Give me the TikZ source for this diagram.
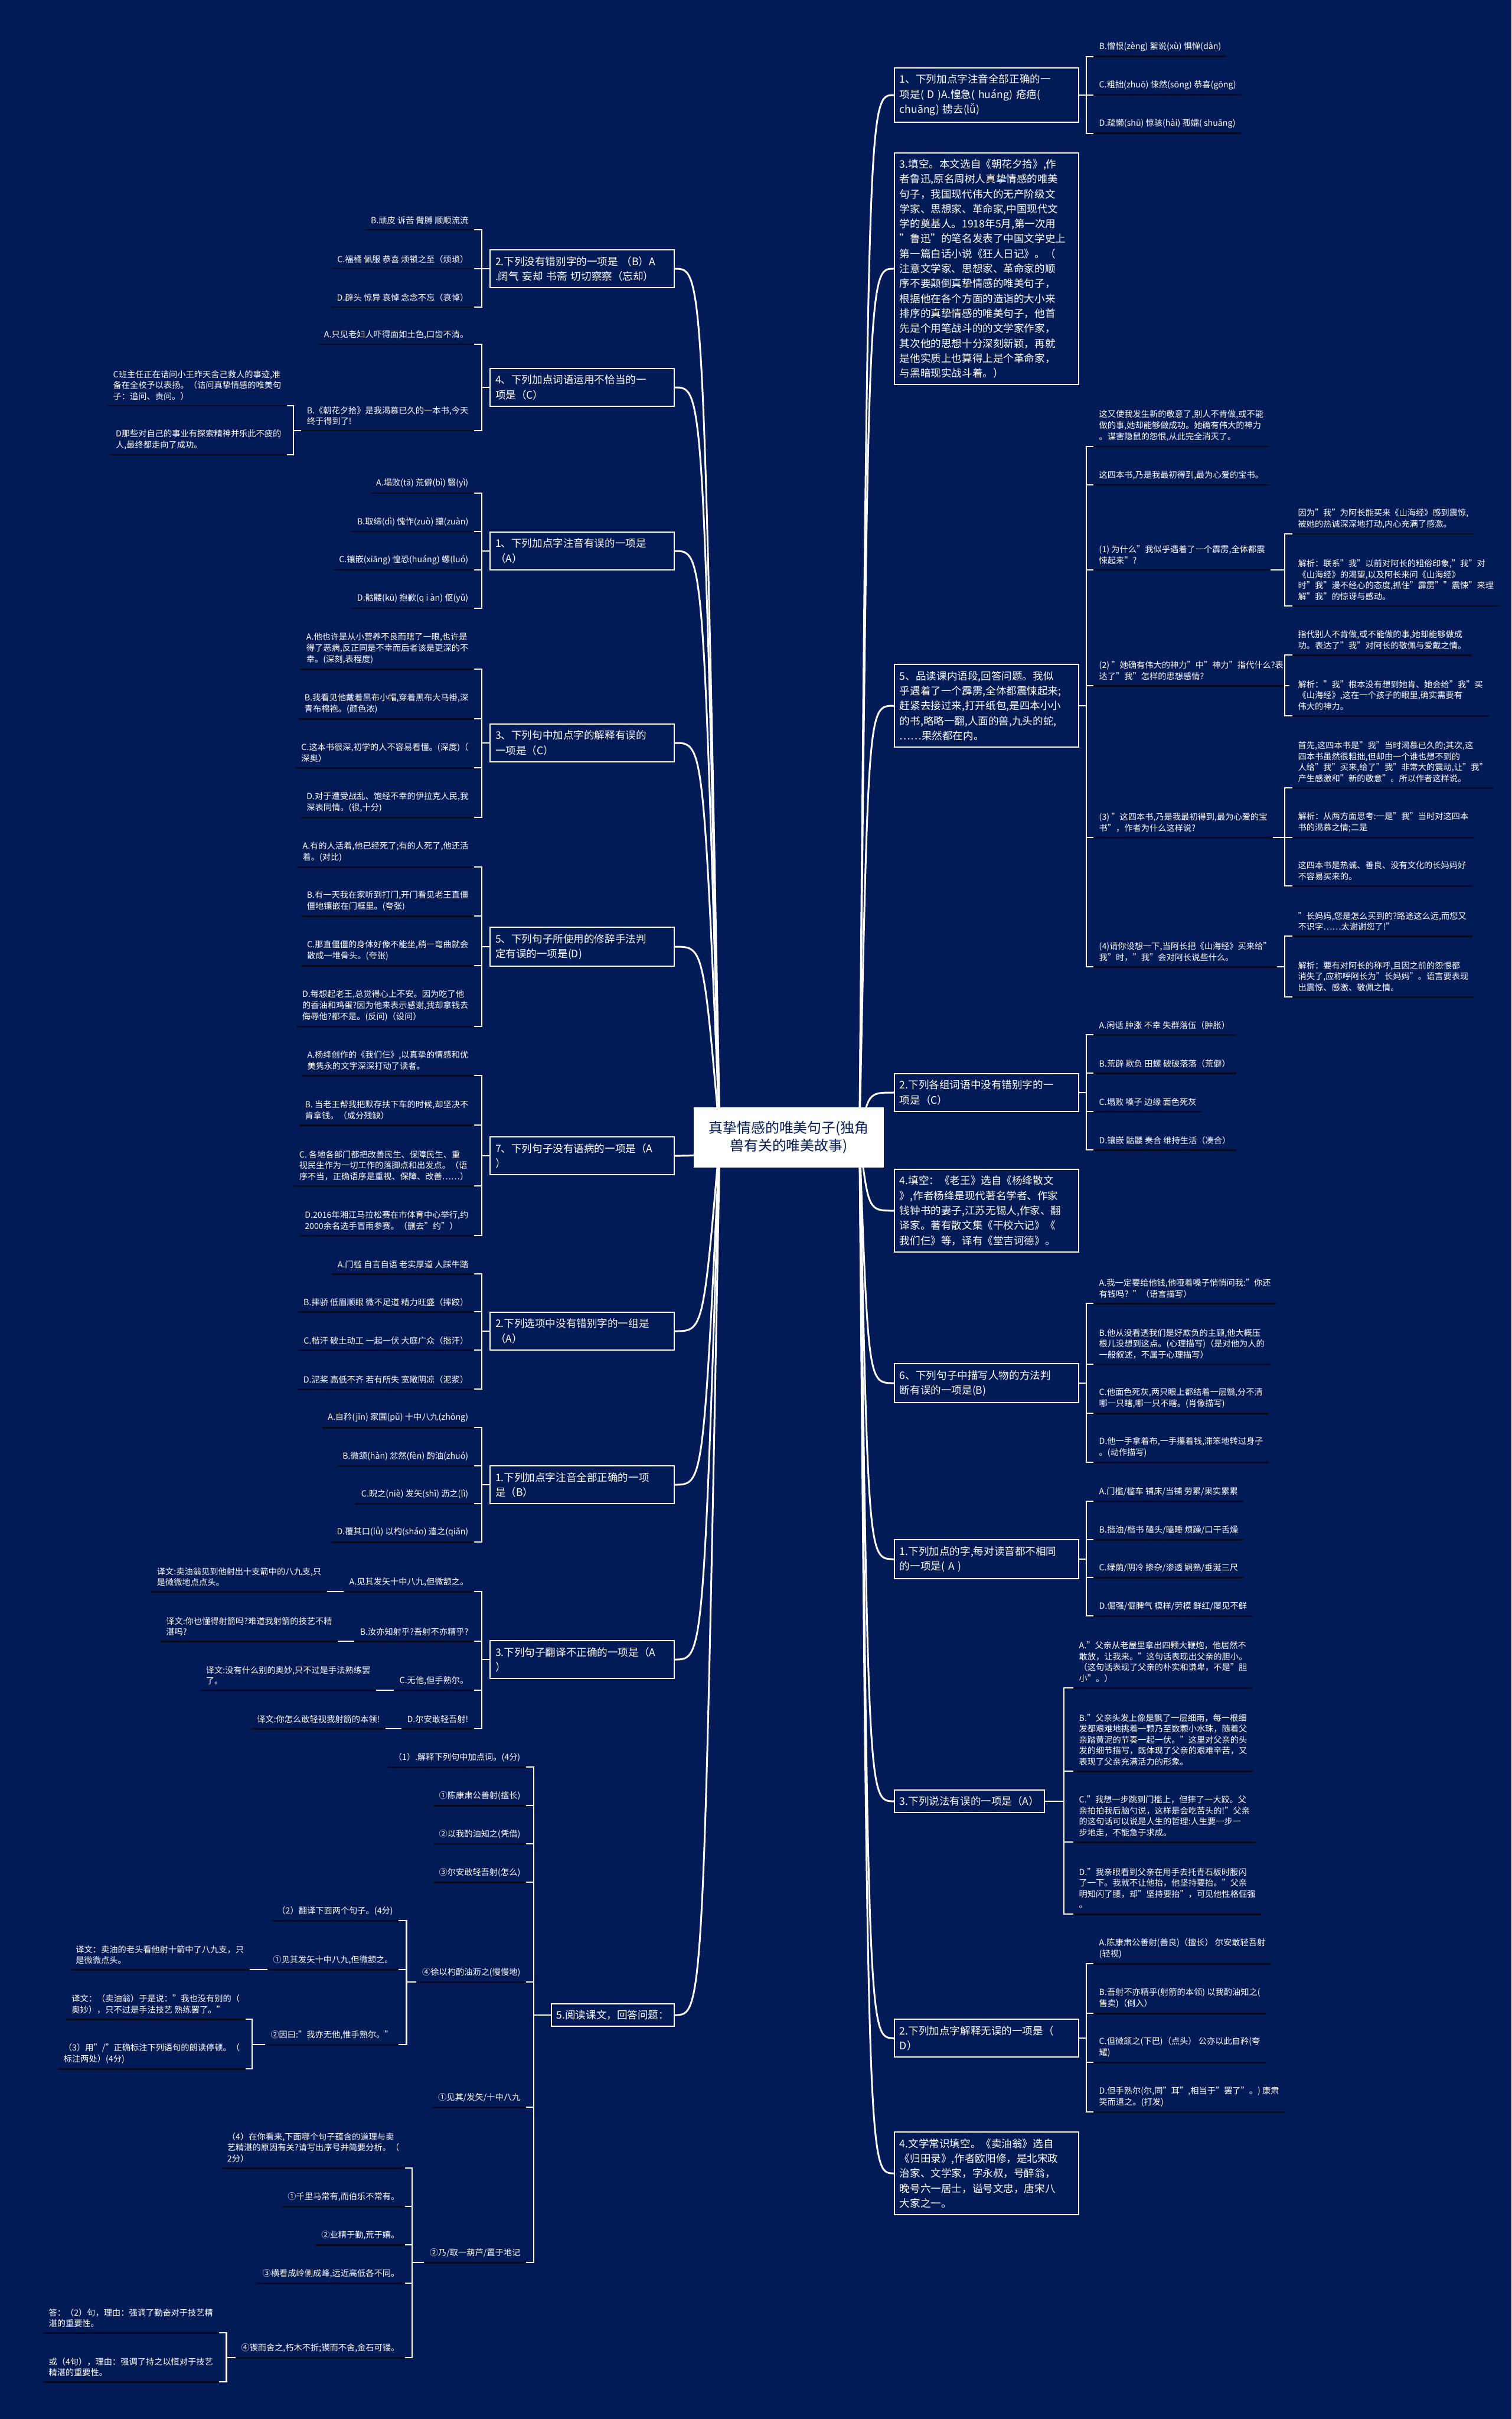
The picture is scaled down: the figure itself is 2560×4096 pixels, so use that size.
\documentclass[tikz,border=0pt]{standalone}
\usepackage{fontspec}
\setmainfont{Noto Sans CJK SC}
\usetikzlibrary{calc,positioning,backgrounds}
\definecolor{mapNavy}{HTML}{021B56}
\definecolor{mapInk}{HTML}{040A22}
\newcommand{\hubsize}{\fontsize{6.8pt}{8.6pt}\selectfont}
\newcommand{\topicsize}{\fontsize{5pt}{7.2pt}\selectfont}
\newcommand{\leafsize}{\fontsize{4.05pt}{5.3pt}\selectfont}

\begin{document}
\begin{tikzpicture}[x=0.1mm,y=-0.1mm,
    hub/.style={fill=white,text=mapNavy,font=\hubsize,align=center,
                minimum width=32.2mm,minimum height=10.2mm,inner sep=1mm},
    topic/.style={draw=white,fill=mapNavy,line width=0.55pt,text=white,font=\topicsize,
                  align=left,inner xsep=0.9mm,inner ysep=1.1mm},
    topicwide/.style={topic,text width=29.4mm},
    leafnode/.style={text=white,font=\leafsize,align=left,inner xsep=0.9mm,inner ysep=0.85mm,
                     append after command={(\tikzlastnode.south west) edge[ink] (\tikzlastnode.south east)}},
    ink/.style={draw=mapInk,line width=0.85pt},
    brk/.style={draw=white,line width=0.7pt},
    branch/.style={draw=white,line width=0.85pt}]

  \useasboundingbox (0,0) rectangle (2560,4096);

  % centre
  \node[hub] (hub) at (1336,1926) {真挚情感的唯美句子(独角\\兽有关的唯美故事)};
  \coordinate (hubR) at ([xshift=-2.7mm]hub.east);
  \coordinate (hubL) at ([xshift=1.7mm]hub.west);

  % ---------- left side ----------
  \node[topicwide,anchor=east] (tCuo) at (1143,455) {2.下列没有错别字的一项是 （B）A\\.阔气 妄却 书斋 切切察察（忘却）};
  \node[leafnode,anchor=south east] (cuoB) at (803,389) {B.顽皮 诉苦 臂膊 顺顺流流};
  \node[leafnode,anchor=south east] (cuoC) at (803,455) {C.福橘 佩服 恭喜 烦锁之至（烦琐）};
  \node[leafnode,anchor=south east] (cuoD) at (803,520) {D.辟头 惊异 哀悼 念念不忘（哀悼）};

  \node[topicwide,anchor=east] (tBuQia) at (1143,656) {4、下列加点词语运用不恰当的一\\项是（C）};
  \node[leafnode,anchor=south east] (buqA) at (803,583) {A.只见老妇人吓得面如土色,口齿不清。};
  \node[leafnode,anchor=south east] (buqB) at (803,729) {B.《朝花夕拾》是我渴慕已久的一本书,今天\\终于得到了!};
  \node[leafnode,anchor=south east] (buqC) at ($(buqB.south west)+(-24,-42)$) {C班主任正在诘问小王昨天舍己救人的事迹,准\\备在全校予以表扬。（诘问真挚情感的唯美句\\子：追问、责问。）};
  \node[leafnode,anchor=south east] (buqD) at ($(buqB.south west)+(-24,41)$) {D那些对自己的事业有探索精神并乐此不疲的\\人,最终都走向了成功。};

  \node[topicwide,anchor=east] (tZhuYin) at (1143,933) {1、下列加点字注音有误的一项是\\（A）};
  \node[leafnode,anchor=south east] (zyA) at (803,835) {A.塌败(tā) 荒僻(bì) 翳(yì)};
  \node[leafnode,anchor=south east] (zyB) at (803,900) {B.取缔(dì) 愧怍(zuò) 攥(zuàn)};
  \node[leafnode,anchor=south east] (zyC) at (803,965) {C.镶嵌(xiāng) 惶恐(huáng) 螺(luó)};
  \node[leafnode,anchor=south east] (zyD) at (803,1030) {D.骷髅(kū) 抱歉(q i àn) 伛(yǔ)};

  \node[topicwide,anchor=east] (tJieShi) at (1143,1258) {3、下列句中加点字的解释有误的\\一项是（C）};
  \node[leafnode,anchor=south east] (jsA) at (803,1133) {A.他也许是从小营养不良而瞎了一眼,也许是\\得了恶病,反正同是不幸而后者该是更深的不\\幸。(深刻,表程度)};
  \node[leafnode,anchor=south east] (jsB) at (803,1217) {B.我看见他戴着黑布小帽,穿着黑布大马褂,深\\青布棉袍。(颜色浓)};
  \node[leafnode,anchor=south east] (jsC) at (803,1300) {C.这本书很深,初学的人不容易看懂。(深度)（\\深奥）};
  \node[leafnode,anchor=south east] (jsD) at (803,1384) {D.对于遭受战乱、饱经不幸的伊拉克人民,我\\深表同情。(很,十分)};

  \node[topicwide,anchor=east] (tXiuCi) at (1143,1603) {5、下列句子所使用的修辞手法判\\定有误的一项是(D)};
  \node[leafnode,anchor=south east] (xcA) at (803,1468) {A.有的人活着,他已经死了;有的人死了,他还活\\着。(对比)};
  \node[leafnode,anchor=south east] (xcB) at (803,1551) {B.有一天我在家听到打门,开门看见老王直僵\\僵地镶嵌在门框里。(夸张)};
  \node[leafnode,anchor=south east] (xcC) at (803,1635) {C.那直僵僵的身体好像不能坐,稍一弯曲就会\\散成一堆骨头。(夸张)};
  \node[leafnode,anchor=south east] (xcD) at (803,1738) {D.每想起老王,总觉得心上不安。因为吃了他\\的香油和鸡蛋?因为他来表示感谢,我却拿钱去\\侮辱他?都不是。(反问)（设问）};

  \node[topicwide,anchor=east] (tYuBing) at (1143,1957) {7、下列句子没有语病的一项是（A\\）};
  \node[leafnode,anchor=south east] (ybA) at (803,1821) {A.杨绛创作的《我们仨》,以真挚的情感和优\\美隽永的文字深深打动了读者。};
  \node[leafnode,anchor=south east] (ybB) at (803,1905) {B. 当老王帮我把默存扶下车的时候,却坚决不\\肯拿钱。（成分残缺）};
  \node[leafnode,anchor=south east] (ybC) at (803,2008) {C. 各地各部门都把改善民生、保障民生、重\\视民生作为一切工作的落脚点和出发点。（语\\序不当，正确语序是重视、保障、改善……）};
  \node[leafnode,anchor=south east] (ybD) at (803,2092) {D.2016年湘江马拉松赛在市体育中心举行,约\\2000余名选手冒雨参赛。（删去"约"）};

  \node[topicwide,anchor=east] (tCuoZu) at (1143,2254) {2.下列选项中没有错别字的一组是\\（A）};
  \node[leafnode,anchor=south east] (czA) at (803,2157) {A.门槛 自言自语 老实厚道 人踩牛踏};
  \node[leafnode,anchor=south east] (czB) at (803,2221) {B.摔骄 低眉顺眼 微不足道 精力旺盛（摔跤）};
  \node[leafnode,anchor=south east] (czC) at (803,2286) {C.楷汗 破土动工 一起一伏 大庭广众（揩汗）};
  \node[leafnode,anchor=south east] (czD) at (803,2352) {D.泥桨 高低不齐 若有所失 宽敞阴凉（泥浆）};

  \node[topicwide,anchor=east] (tZhuYin2) at (1143,2514) {1.下列加点字注音全部正确的一项\\是（B）};
  \node[leafnode,anchor=south east] (zqA) at (803,2417) {A.自矜(jīn) 家圃(pǔ) 十中八九(zhōng)};
  \node[leafnode,anchor=south east] (zqB) at (803,2482) {B.微颔(hàn) 忿然(fèn) 酌油(zhuó)};
  \node[leafnode,anchor=south east] (zqC) at (803,2546) {C.睨之(niè) 发矢(shǐ) 沥之(lì)};
  \node[leafnode,anchor=south east] (zqD) at (803,2611) {D.覆其口(lǚ) 以杓(sháo) 遣之(qiǎn)};

  \node[topicwide,anchor=east] (tFanYi) at (1143,2810) {3.下列句子翻译不正确的一项是（A\\）};
  \node[leafnode,anchor=south east] (fyA) at (803,2695) {A.见其发矢十中八九,但微颔之。};
  \node[leafnode,anchor=south east] (fyB) at (803,2779) {B.汝亦知射乎?吾射不亦精乎?};
  \node[leafnode,anchor=south east] (fyC) at (803,2862) {C.无他,但手熟尔。};
  \node[leafnode,anchor=south east] (fyD) at (803,2927) {D.尔安敢轻吾射!};
  \node[leafnode,anchor=south east] (fyAy) at ($(fyA.south west)+(-28,0)$) {译文:卖油翁见到他射出十支箭中的八九支,只\\是微微地点点头。};
  \node[leafnode,anchor=south east] (fyBy) at ($(fyB.south west)+(-28,0)$) {译文:你也懂得射箭吗?难道我射箭的技艺不精\\湛吗?};
  \node[leafnode,anchor=south east] (fyCy) at ($(fyC.south west)+(-30,0)$) {译文:没有什么别的奥妙,只不过是手法熟练罢\\了。};
  \node[leafnode,anchor=south east] (fyDy) at ($(fyD.south west)+(-27,0)$) {译文:你怎么敢轻视我射箭的本领!};

  \node[topic,anchor=east] (tYueDu) at (1143,3412) {5.阅读课文，回答问题：};
  \node[leafnode,anchor=south east] (yd1) at (891,2992) {（1）.解释下列句中加点词。(4分)};
  \node[leafnode,anchor=south east] (yd2) at (891,3057) {①陈康肃公善射(擅长)};
  \node[leafnode,anchor=south east] (yd3) at (891,3122) {②以我酌油知之(凭借)};
  \node[leafnode,anchor=south east] (yd4) at (891,3187) {③尔安敢轻吾射(怎么)};
  \node[leafnode,anchor=south east] (yd5) at (891,3356) {④徐以杓酌油沥之(慢慢地)};
  \node[leafnode,anchor=south east] (yd6) at (891,3568) {①见其/发矢/十中八九};
  \node[leafnode,anchor=south east] (yd7) at (891,3831) {②乃/取一葫芦/置于地记};
  \node[leafnode,anchor=south east] (yd5a) at ($(yd5.south west)+(-30,-104)$) {（2）翻译下面两个句子。(4分)};
  \node[leafnode,anchor=south east] (yd5b) at ($(yd5.south west)+(-30,-21)$) {①见其发矢十中八九,但微颔之。};
  \node[leafnode,anchor=south east] (yd5c) at ($(yd5.south west)+(-30,106)$) {②因曰:"我亦无他,惟手熟尔。"};
  \node[leafnode,anchor=south east] (yd5by) at ($(yd5b.south west)+(-30,0)$) {译文：卖油的老头看他射十箭中了八九支，只\\是微微点头。};
  \node[leafnode,anchor=south east] (yd5c1) at ($(yd5c.south west)+(-33,-43)$) {译文：（卖油翁）于是说："我也没有别的（\\奥妙），只不过是手法技艺 熟练罢了。"};
  \node[leafnode,anchor=south east] (yd5c2) at ($(yd5c.south west)+(-33,41)$) {（3）用"/"正确标注下列语句的朗读停顿。（\\标注两处）(4分)};
  \node[leafnode,anchor=south east] (yd7a) at ($(yd7.south west)+(-32,-160)$) {（4）在你看来,下面哪个句子蕴含的道理与卖\\艺精湛的原因有关?请写出序号并简要分析。（\\2分）};
  \node[leafnode,anchor=south east] (yd7b) at ($(yd7.south west)+(-32,-95)$) {①千里马常有,而伯乐不常有。};
  \node[leafnode,anchor=south east] (yd7c) at ($(yd7.south west)+(-32,-30)$) {②业精于勤,荒于嬉。};
  \node[leafnode,anchor=south east] (yd7d) at ($(yd7.south west)+(-32,35)$) {③横看成岭侧成峰,远近高低各不同。};
  \node[leafnode,anchor=south east] (yd7e) at ($(yd7.south west)+(-32,161)$) {④锲而舍之,朽木不折;锲而不舍,金石可镂。};
  \node[leafnode,anchor=south east] (yd7e1) at ($(yd7e.south west)+(-28,-42)$) {答：（2）句，理由：强调了勤奋对于技艺精\\湛的重要性。};
  \node[leafnode,anchor=south east] (yd7e2) at ($(yd7e.south west)+(-28,41)$) {或（4句），理由：强调了持之以恒对于技艺\\精湛的重要性。};

  % ---------- right side ----------
  \node[topicwide,anchor=west] (tZhengQue) at (1514,161) {1、下列加点字注音全部正确的一\\项是( D )A.惶急( huáng) 疮疤(\\chuāng) 掳去(lǚ)};
  \node[leafnode,anchor=south west] (zqrB) at (1852,96) {B.憎恨(zèng) 絮说(xù) 惧惮(dàn)};
  \node[leafnode,anchor=south west] (zqrC) at (1852,161) {C.粗拙(zhuō) 悚然(sōng) 恭喜(gōng)};
  \node[leafnode,anchor=south west] (zqrD) at (1852,226) {D.疏懒(shū) 惊骇(hài) 孤孀( shuāng)};

  \node[topicwide,anchor=west] (tTianKong) at (1514,455) {3.填空。本文选自《朝花夕拾》,作\\者鲁迅,原名周树人真挚情感的唯美\\句子，我国现代伟大的无产阶级文\\学家、思想家、革命家,中国现代文\\学的奠基人。1918年5月,第一次用\\"鲁迅"的笔名发表了中国文学史上\\第一篇白话小说《狂人日记》。（\\注意文学家、思想家、革命家的顺\\序不要颠倒真挚情感的唯美句子，\\根据他在各个方面的造诣的大小来\\排序的真挚情感的唯美句子，他首\\先是个用笔战斗的的文学家作家，\\其次他的思想十分深刻新颖，再就\\是他实质上也算得上是个革命家，\\与黑暗现实战斗着。）};

  \node[topicwide,anchor=west] (tPinDu) at (1514,1195) {5、品读课内语段,回答问题。我似\\乎遇着了一个霹雳,全体都震悚起来;\\赶紧去接过来,打开纸包,是四本小小\\的书,略略一翻,人面的兽,九头的蛇,\\……果然都在内。};
  \node[leafnode,anchor=south west] (pdA) at (1852,756) {这又使我发生新的敬意了,别人不肯做,或不能\\做的事,她却能够做成功。她确有伟大的神力\\。谋害隐鼠的怨恨,从此完全消灭了。};
  \node[leafnode,anchor=south west] (pdB) at (1852,821) {这四本书,乃是我最初得到,最为心爱的宝书。};
  \node[leafnode,anchor=south west] (pd1) at (1852,965) {(1) 为什么"我似乎遇着了一个霹雳,全体都震\\悚起来"?};
  \node[leafnode,anchor=south west] (pd2) at (1852,1161) {(2) "她确有伟大的神力"中"神力"指代什么?表\\达了"我"怎样的思想感情?};
  \node[leafnode,anchor=south west] (pd3) at (1852,1418) {(3) "这四本书,乃是我最初得到,最为心爱的宝\\书"，作者为什么这样说?};
  \node[leafnode,anchor=south west] (pd4) at (1852,1637) {(4)请你设想一下,当阿长把《山海经》买来给"\\我"时，"我"会对阿长说些什么。};
  \node[leafnode,anchor=south west] (pd1a) at (2189,904) {因为"我"为阿长能买来《山海经》感到震惊,\\被她的热诚深深地打动,内心充满了感激。};
  \node[leafnode,anchor=south west] (pd1b) at (2189,1026) {解析：联系"我"以前对阿长的粗俗印象,"我"对\\《山海经》的渴望,以及阿长来问《山海经》\\时"我"漫不经心的态度,抓住"霹雳""震悚"来理\\解"我"的惊讶与感动。};
  \node[leafnode,anchor=south west] (pd2a) at (2189,1109) {指代别人不肯做,或不能做的事,她却能够做成\\功。表达了"我"对阿长的敬佩与爱戴之情。};
  \node[leafnode,anchor=south west] (pd2b) at (2189,1212) {解析："我"根本没有想到她肯、她会给"我"买\\《山海经》,这在一个孩子的眼里,确实需要有\\伟大的神力。};
  \node[leafnode,anchor=south west] (pd3a) at (2189,1334) {首先,这四本书是"我"当时渴慕已久的;其次,这\\四本书虽然很粗拙,但却由一个谁也想不到的\\人给"我"买来,给了"我"非常大的震动,让"我"\\产生感激和"新的敬意"。所以作者这样说。};
  \node[leafnode,anchor=south west] (pd3b) at (2189,1418) {解析：从两方面思考:一是"我"当时对这四本\\书的渴慕之情;二是};
  \node[leafnode,anchor=south west] (pd3c) at (2189,1500) {这四本书是热诚、善良、没有文化的长妈妈好\\不容易买来的。};
  \node[leafnode,anchor=south west] (pd4a) at (2189,1585) {"长妈妈,您是怎么买到的?路途这么远,而您又\\不识字……太谢谢您了!"};
  \node[leafnode,anchor=south west] (pd4b) at (2189,1688) {解析：要有对阿长的称呼,且因之前的怨恨都\\消失了,应称呼阿长为"长妈妈"。语言要表现\\出震惊、感激、敬佩之情。};

  \node[topicwide,anchor=west] (tGeZu) at (1514,1850) {2.下列各组词语中没有错别字的一\\项是（C）};
  \node[leafnode,anchor=south west] (gzA) at (1852,1752) {A.闲话 肿涨 不幸 失群落伍（肿胀）};
  \node[leafnode,anchor=south west] (gzB) at (1852,1817) {B.荒辟 欺负 田螺 破破落落（荒僻）};
  \node[leafnode,anchor=south west] (gzC) at (1852,1882) {C.塌败 嗓子 边缘 面色死灰};
  \node[leafnode,anchor=south west] (gzD) at (1852,1947) {D.镶嵌 骷髅 奏合 维持生活（凑合）};

  \node[topicwide,anchor=west] (tLaoWang) at (1514,2050) {4.填空：《老王》选自《杨绛散文\\》,作者杨绛是现代著名学者、作家\\钱钟书的妻子,江苏无锡人,作家、翻\\译家。著有散文集《干校六记》《\\我们仨》等，译有《堂吉诃德》。};

  \node[topicwide,anchor=west] (tMiaoXie) at (1514,2342) {6、下列句子中描写人物的方法判\\断有误的一项是(B)};
  \node[leafnode,anchor=south west] (mxA) at (1852,2207) {A.我一定要给他钱,他哑着嗓子悄悄问我:"你还\\有钱吗？"（语言描写）};
  \node[leafnode,anchor=south west] (mxB) at (1852,2310) {B.他从没看透我们是好欺负的主顾,他大概压\\根儿没想到这点。(心理描写)（是对他为人的\\一般叙述，不属于心理描写）};
  \node[leafnode,anchor=south west] (mxC) at (1852,2393) {C.他面色死灰,两只眼上都结着一层翳,分不清\\哪一只瞎,哪一只不瞎。(肖像描写)};
  \node[leafnode,anchor=south west] (mxD) at (1852,2476) {D.他一手拿着布,一手攥着钱,滞笨地转过身子\\。(动作描写)};

  \node[topicwide,anchor=west] (tDuYin) at (1514,2640) {1.下列加点的字,每对读音都不相同\\的一项是( A )};
  \node[leafnode,anchor=south west] (dyA) at (1852,2542) {A.门槛/槛车 铺床/当铺 劳累/果实累累};
  \node[leafnode,anchor=south west] (dyB) at (1852,2607) {B.揩油/楷书 磕头/瞌睡 烦躁/口干舌燥};
  \node[leafnode,anchor=south west] (dyC) at (1852,2671) {C.绿荫/阴冷 掺杂/渗透 娴熟/垂涎三尺};
  \node[leafnode,anchor=south west] (dyD) at (1852,2736) {D.倔强/倔脾气 模样/劳模 鲜红/屡见不鲜};

  \node[topic,anchor=west] (tShuoFa) at (1514,3050) {3.下列说法有误的一项是（A）};
  \node[leafnode,anchor=south west] (sfA) at (1818,2858) {A."父亲从老屋里拿出四颗大鞭炮，他居然不\\敢放，让我来。"这句话表现出父亲的胆小。\\（这句话表现了父亲的朴实和谦卑，不是"胆\\小"。）};
  \node[leafnode,anchor=south west] (sfB) at (1818,2999) {B."父亲头发上像是飘了一层细雨，每一根细\\发都艰难地挑着一颗乃至数颗小水珠，随着父\\亲踏黄泥的节奏一起一伏。"这里对父亲的头\\发的细节描写，既体现了父亲的艰难辛苦，又\\表现了父亲充满活力的形象。};
  \node[leafnode,anchor=south west] (sfC) at (1818,3119) {C."我想一步跳到门槛上，但摔了一大跤。父\\亲拍拍我后脑勺说，这样是会吃苦头的!"父亲\\的这句话可以说是人生的哲理:人生要一步一\\步地走，不能急于求成。};
  \node[leafnode,anchor=south west] (sfD) at (1818,3241) {D."我亲眼看到父亲在用手去托青石板时腰闪\\了一下。我就不让他抬，他坚持要抬。"父亲\\明知闪了腰，却"坚持要抬"，可见他性格倔强\\。};

  \node[topicwide,anchor=west] (tJieShi2) at (1514,3451) {2.下列加点字解释无误的一项是（\\D）};
  \node[leafnode,anchor=south west] (jwA) at (1852,3325) {A.陈康肃公善射(善良)（擅长） 尔安敢轻吾射\\(轻视)};
  \node[leafnode,anchor=south west] (jwB) at (1852,3409) {B.吾射不亦精乎(射箭的本领) 以我酌油知之(\\售卖)（倒入）};
  \node[leafnode,anchor=south west] (jwC) at (1852,3492) {C.但微颔之(下巴)（点头） 公亦以此自矜(夸\\耀)};
  \node[leafnode,anchor=south west] (jwD) at (1852,3576) {D.但手熟尔(尔,同"耳",相当于"罢了"。) 康肃\\笑而遣之。(打发)};

  \node[topicwide,anchor=west] (tWenXue) at (1514,3680) {4.文学常识填空。《卖油翁》选自\\《归田录》,作者欧阳修，是北宋政\\治家、文学家，字永叔，号醉翁，\\晚号六一居士，谥号文忠，唐宋八\\大家之一。};

  % brackets, left side
  \foreach \c in {cuoB,cuoC,cuoD} \draw[brk] (\c.south east) -- ++(13,0) |- (tCuo.west);
  \foreach \c in {buqA,buqB} \draw[brk] (\c.south east) -- ++(13,0) |- (tBuQia.west);
  \foreach \c in {buqC,buqD} \draw[brk] (\c.south east) -- ++(11,0) |- (buqB.south west);
  \foreach \c in {zyA,zyB,zyC,zyD} \draw[brk] (\c.south east) -- ++(13,0) |- (tZhuYin.west);
  \foreach \c in {jsA,jsB,jsC,jsD} \draw[brk] (\c.south east) -- ++(13,0) |- (tJieShi.west);
  \foreach \c in {xcA,xcB,xcC,xcD} \draw[brk] (\c.south east) -- ++(13,0) |- (tXiuCi.west);
  \foreach \c in {ybA,ybB,ybC,ybD} \draw[brk] (\c.south east) -- ++(13,0) |- (tYuBing.west);
  \foreach \c in {czA,czB,czC,czD} \draw[brk] (\c.south east) -- ++(13,0) |- (tCuoZu.west);
  \foreach \c in {zqA,zqB,zqC,zqD} \draw[brk] (\c.south east) -- ++(13,0) |- (tZhuYin2.west);
  \foreach \c in {fyA,fyB,fyC,fyD} \draw[brk] (\c.south east) -- ++(13,0) |- (tFanYi.west);
  \foreach \c/\p in {fyAy/fyA,fyBy/fyB,fyCy/fyC,fyDy/fyD} \draw[brk] (\c.south east) -- (\p.south west);
  \foreach \c in {yd1,yd2,yd3,yd4,yd5,yd6,yd7} \draw[brk] (\c.south east) -- ++(13,0) |- (tYueDu.west);
  \foreach \c in {yd5a,yd5b,yd5c} \draw[brk] (\c.south east) -- ++(13,0) |- (yd5.south west);
  \draw[brk] (yd5by.south east) -- (yd5b.south west);
  \foreach \c in {yd5c1,yd5c2} \draw[brk] (\c.south east) -- ++(11,0) |- (yd5c.south west);
  \foreach \c in {yd7a,yd7b,yd7c,yd7d,yd7e} \draw[brk] (\c.south east) -- ++(12,0) |- (yd7.south west);
  \foreach \c in {yd7e1,yd7e2} \draw[brk] (\c.south east) -- ++(13,0) |- (yd7e.south west);

  % brackets, right side
  \foreach \c in {zqrB,zqrC,zqrD} \draw[brk] (\c.south west) -- ++(-12,0) |- (tZhengQue.east);
  \foreach \c in {pdA,pdB,pd1,pd2,pd3,pd4} \draw[brk] (\c.south west) -- ++(-12,0) |- (tPinDu.east);
  \foreach \c/\p in {pd1a/pd1,pd1b/pd1,pd2a/pd2,pd2b/pd2,pd3a/pd3,pd3b/pd3,pd3c/pd3,pd4a/pd4,pd4b/pd4}
    \draw[brk] (\c.south west) -- ++(-13,0) |- (\p.south east);
  \foreach \c in {gzA,gzB,gzC,gzD} \draw[brk] (\c.south west) -- ++(-12,0) |- (tGeZu.east);
  \foreach \c in {mxA,mxB,mxC,mxD} \draw[brk] (\c.south west) -- ++(-12,0) |- (tMiaoXie.east);
  \foreach \c in {dyA,dyB,dyC,dyD} \draw[brk] (\c.south west) -- ++(-12,0) |- (tDuYin.east);
  \foreach \c in {sfA,sfB,sfC,sfD} \draw[brk] (\c.south west) -- ++(-16,0) |- (tShuoFa.east);
  \foreach \c in {jwA,jwB,jwC,jwD} \draw[brk] (\c.south west) -- ++(-12,0) |- (tJieShi2.east);

  % background and branches from the centre
  \begin{scope}[on background layer]
    \fill[mapNavy] (0,0) rectangle (2560,4096);
    \foreach \t in {tZhengQue,tTianKong,tPinDu,tGeZu,tLaoWang,tMiaoXie,tDuYin,tShuoFa,tJieShi2,tWenXue}
      \draw[branch] ([xshift=-4.2mm]hub.east) .. controls (hubR |- \t.west) .. (\t.west);
    \foreach \t in {tCuo,tBuQia,tZhuYin,tJieShi,tXiuCi,tYuBing,tCuoZu,tZhuYin2,tFanYi,tYueDu}
      \draw[branch] ([xshift=4.5mm]hub.west) .. controls (hubL |- \t.east) .. (\t.east);
  \end{scope}
\end{tikzpicture}
\end{document}
